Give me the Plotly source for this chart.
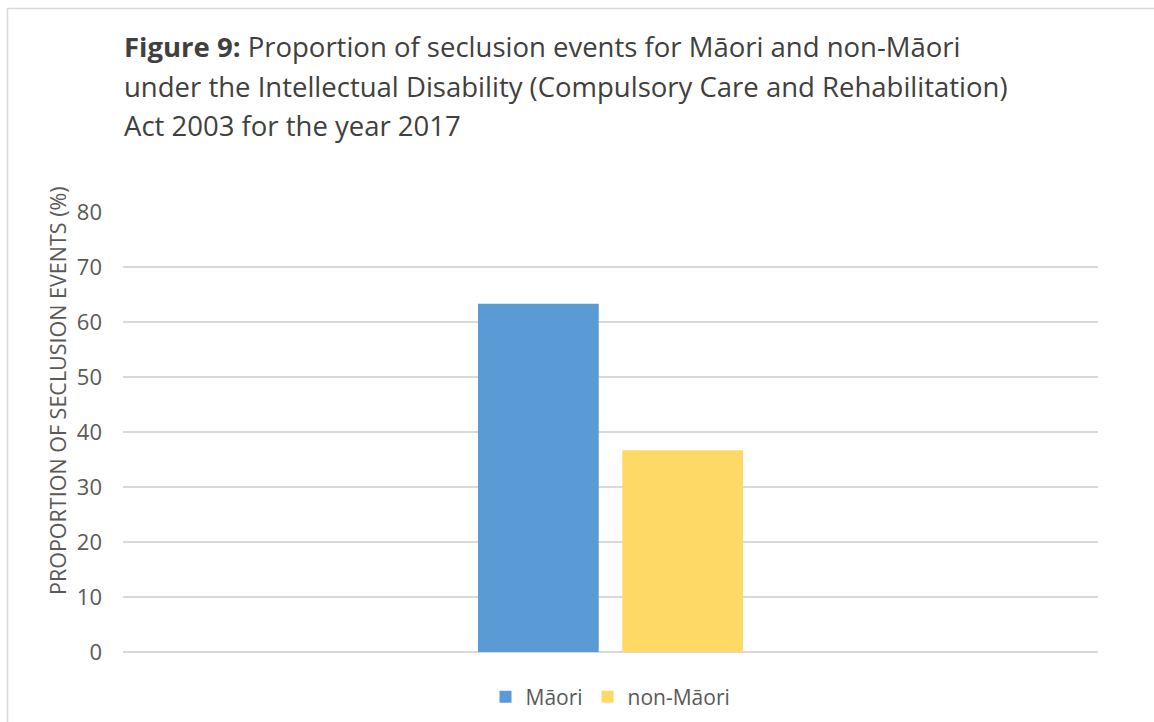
import plotly.graph_objects as go

# Seclusion events under the ID(CC&R) Act, 2017
year = ["2017"]
groups = ["Māori", "non-Māori"]
proportions = [63.3, 36.7]
colors = ["#5B9BD5", "#FFD966"]
y_ticks = [0, 10, 20, 30, 40, 50, 60, 70, 80]

title_lines = [
    "<b>Figure 9:</b> Proportion of seclusion events for Māori and non-Māori",
    "under the Intellectual Disability (Compulsory Care and Rehabilitation)",
    "Act 2003 for the year 2017",
]

W, H = 1154, 722
L, R, T, B = 123, 56, 212, 70
PW, PH = W - L - R, H - T - B


def px_x(px):
    return (px - L) / PW


def px_y(py):
    return (H - B - py) / PH


FONT = "Open Sans, Carlito, Calibri, sans-serif"
GREY = "#595959"

fig = go.Figure()
for name, val, col in zip(groups, proportions, colors):
    fig.add_trace(go.Bar(x=year, y=[val], name=name, marker=dict(color=col, line=dict(width=0))))

annotations = []
for line, cy in zip(title_lines, [46, 86, 126]):
    annotations.append(dict(
        text=line, xref="paper", yref="paper", x=px_x(122), y=px_y(cy),
        xanchor="left", yanchor="middle", showarrow=False,
        font=dict(family=FONT, size=27.5, color="#404040"),
    ))
annotations.append(dict(
    text="PROPORTION OF SECLUSION EVENTS (%)", xref="paper", yref="paper",
    x=px_x(57), y=px_y(391), xanchor="center", yanchor="middle", textangle=-90,
    showarrow=False, font=dict(family=FONT, size=21.5, color=GREY),
))

fig.update_layout(
    width=W, height=H,
    margin=dict(l=L, r=R, t=T, b=B, pad=0, autoexpand=False),
    paper_bgcolor="white", plot_bgcolor="white",
    barmode="group", bargap=0.704, bargroupgap=0.163,
    showlegend=True,
    legend=dict(orientation="h", x=0.5, xanchor="center", y=px_y(697), yanchor="middle",
                font=dict(family=FONT, size=21, color=GREY),
                itemwidth=30, traceorder="normal"),
    annotations=annotations,
    shapes=[dict(type="rect", xref="paper", yref="paper",
                 x0=px_x(7.5), x1=px_x(1170), y0=px_y(740), y1=px_y(8.5),
                 line=dict(color="#D9D9D9", width=1.5), fillcolor="rgba(0,0,0,0)",
                 layer="below")],
    xaxis=dict(showticklabels=False, showgrid=False, showline=False, zeroline=False, ticks=""),
    yaxis=dict(range=[0, 80], tickvals=y_ticks, showgrid=True, gridcolor="#D9D9D9",
               gridwidth=1.5, zeroline=True, zerolinecolor="#D9D9D9", zerolinewidth=1.5,
               showline=False, ticks="", ticklabelstandoff=20,
               tickfont=dict(family=FONT, size=22, color=GREY)),
)

fig.write_html("out.html")
